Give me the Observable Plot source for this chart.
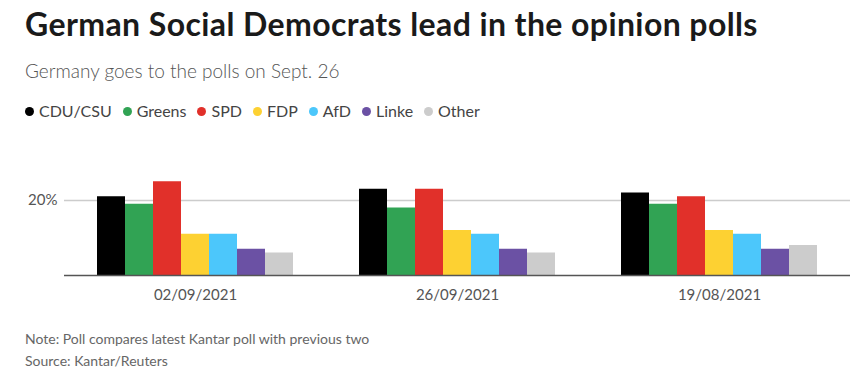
<!DOCTYPE html>
<html>
<head>
<meta charset="utf-8">
<script src="https://cdn.jsdelivr.net/npm/d3@7"></script>
<script src="https://cdn.jsdelivr.net/npm/@observablehq/plot@0.6"></script>
<style>
  html, body { margin: 0; padding: 0; background: #fff; }
  body { width: 867px; height: 371px; overflow: hidden; position: relative; font-family: Lato, "Open Sans", sans-serif; }
  h1 { position: absolute; left: 25px; top: 6px; margin: 0; font-size: 32px; font-weight: 700; color: #1a1a1a; letter-spacing: 0.4px; line-height: 36px; white-space: nowrap; }
  .sub { position: absolute; left: 25px; top: 60px; font-size: 19px; font-weight: 300; color: #555; line-height: 22px; white-space: nowrap; }
  .legend { position: absolute; left: 25px; top: 101px; display: flex; align-items: center; font-size: 16px; color: #444; line-height: 20px; white-space: nowrap; }
  .legend span.item { display: inline-flex; align-items: center; margin-right: 11px; }
  .legend span.dot { width: 9px; height: 9px; border-radius: 50%; display: inline-block; margin-right: 5px; }
  #chart { position: absolute; left: 0; top: 138px; }
  .notes { position: absolute; left: 25px; top: 328px; font-size: 14px; color: #666; line-height: 22px; font-weight: 400; }
</style>
</head>
<body>
<h1>German Social Democrats lead in the opinion polls</h1>
<div class="sub">Germany goes to the polls on Sept. 26</div>
<div class="legend" id="legend"></div>
<div id="chart"></div>
<div class="notes">Note: Poll compares latest Kantar poll with previous two<br>Source: Kantar/Reuters</div>
<script>
const dates = ["02/09/2021", "26/09/2021", "19/08/2021"];
const parties = ["CDU/CSU", "Greens", "SPD", "FDP", "AfD", "Linke", "Other"];
const colors = ["#000000", "#31a354", "#e1302a", "#fdd132", "#4cc7fb", "#6b51a4", "#cccccc"];
const poll_0209 = [21, 19, 25, 11, 11, 7, 6];
const poll_2609 = [23, 18, 23, 12, 11, 7, 6];
const poll_1908 = [22, 19, 21, 12, 11, 7, 8];
const yTicks = [20];

const series = [poll_0209, poll_2609, poll_1908];
const data = [];
dates.forEach((d, i) => parties.forEach((p, j) => data.push({date: d, party: p, value: series[i][j]})));

// legend
const leg = document.getElementById("legend");
parties.forEach((p, j) => {
  const it = document.createElement("span");
  it.className = "item";
  it.innerHTML = `<span class="dot" style="background:${colors[j]}"></span>${p}`;
  leg.appendChild(it);
});

const chart = Plot.plot({
  width: 867,
  height: 178,
  marginLeft: 63,
  marginRight: 16,
  marginTop: 24.5,
  marginBottom: 41,
  style: {fontFamily: "Lato, sans-serif", fontSize: "15px", color: "#555", background: "#fff"},
  facet: {data, x: "date", marginTop: 0, marginBottom: 41},
  fx: {domain: dates, padding: 0, axis: "bottom", label: null, tickSize: 0, tickPadding: 14},
  x: {domain: parties, axis: null, paddingInner: 0, paddingOuter: 1.14},
  y: {domain: [0, 30], ticks: yTicks, tickFormat: d => d + "%", tickSize: 0, tickPadding: 7, label: null},
  color: {domain: parties, range: colors},
  marks: [
    Plot.ruleY(yTicks, {stroke: "#cccccc", strokeWidth: 1.5}),
    Plot.barY(data, {x: "party", y: "value", fill: "party"}),
    Plot.ruleY([0], {stroke: "#555", strokeWidth: 1.5})
  ]
});
document.getElementById("chart").appendChild(chart);
</script>
</body>
</html>
